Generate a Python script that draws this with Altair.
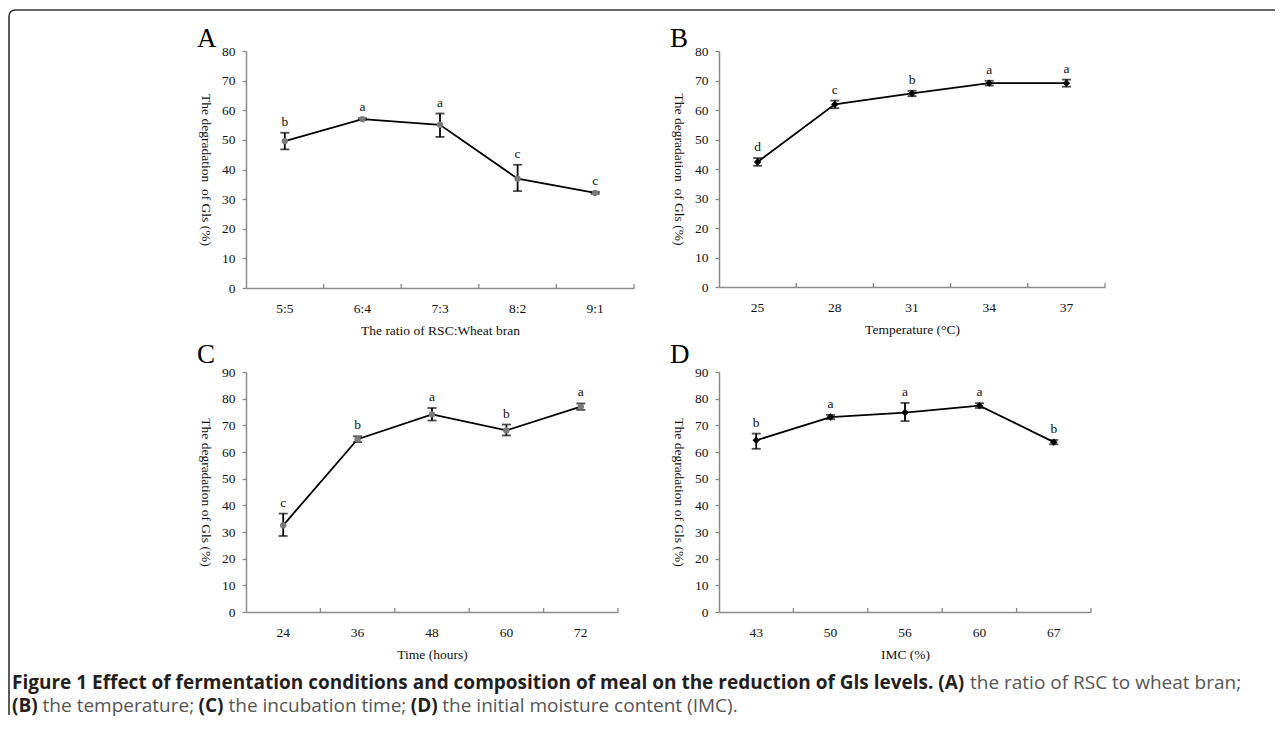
import altair as alt
import pandas as pd
import math

SERIF = "Liberation Serif"
SANS = "Open Sans"

# ---------------- data ----------------
a_cat = ["5:5", "6:4", "7:3", "8:2", "9:1"]
a_val = [49.6, 57.0, 55.1, 36.9, 32.1]
a_lo = [46.8, 56.7, 51.0, 32.7, 31.8]
a_hi = [52.4, 57.3, 58.9, 41.6, 32.4]
a_sig = ["b", "a", "a", "c", "c"]

b_cat = ["25", "28", "31", "34", "37"]
b_val = [42.4, 61.9, 65.6, 69.1, 69.1]
b_lo = [41.1, 60.6, 64.7, 68.3, 67.9]
b_hi = [43.7, 63.2, 66.5, 69.9, 70.3]
b_sig = ["d", "c", "b", "a", "a"]

c_cat = ["24", "36", "48", "60", "72"]
c_val = [32.5, 64.8, 74.1, 68.1, 77.0]
c_lo = [28.5, 63.7, 71.8, 66.2, 75.8]
c_hi = [36.9, 65.9, 76.5, 70.3, 78.2]
c_sig = ["c", "b", "a", "b", "a"]

d_cat = ["43", "50", "56", "60", "67"]
d_val = [64.4, 73.1, 74.8, 77.4, 63.7]
d_lo = [61.2, 72.3, 71.6, 76.5, 62.9]
d_hi = [66.9, 73.9, 78.4, 78.3, 64.5]
d_sig = ["b", "a", "a", "a", "b"]

ytitle_top = "The degradation\u00a0 of Gls (%)"
ytitle_bot = "The degradation of Gls (%)"

caption_bold = [
    "Figure 1 Effect of fermentation conditions and composition of meal on the reduction of Gls levels. (A)",
    "(B)", "(C)", "(D)",
]
caption_reg = [
    "the ratio of RSC to wheat bran;",
    "the temperature;", "the incubation time;", "the initial moisture content (IMC).",
]
# caption placement (pixels, relative to panel A plot origin)
cap_bold_x = [-234, -234, -47.5, 164.7]
cap_bold_y = [638, 661, 661, 661]
cap_reg_x = [724, -203.4, -17.5, 196.3]
cap_reg_y = [638, 661, 661, 661]

AX_STYLE = dict(
    domainColor="#8a8a8a", domainWidth=1.5, tickColor="#8a8a8a", tickWidth=1.3,
    labelFont=SERIF, labelFontSize=13.5, labelColor="#111",
    titleFont=SERIF, titleFontSize=13.5, titleFontWeight="normal", titleColor="#111",
)


def panel(cats, vals, lo, hi, sig, letter, letter_y, xtitle, ytitle, ymax,
          w, h, shape, mcolor, msize):
    df = pd.DataFrame({"cat": cats, "val": vals, "lo": lo, "hi": hi, "sig": sig})
    xaxis = alt.Axis(
        title=xtitle, labelAngle=0, ticks=False,
        labelPadding=13, titleY=42, titleBaseline="middle", **AX_STYLE)
    xscale = alt.Scale(paddingInner=0, paddingOuter=0)
    yaxis = alt.Axis(
        title=ytitle, values=list(range(0, ymax + 1, 10)), grid=False,
        tickSize=4, labelPadding=7, labelOverlap=False, titleAngle=90, titleX=-41,
        titleY=h / 2, titleBaseline="middle", titleAlign="center", **AX_STYLE)
    yscale = alt.Scale(domain=[0, ymax], nice=False)

    def X(**kw):
        return alt.X("cat:N", sort=cats, scale=xscale, axis=xaxis, **kw)

    def Y(f):
        return alt.Y(f + ":Q", scale=yscale, axis=yaxis)

    base = alt.Chart(df)
    line = base.mark_line(color="black", strokeWidth=1.8).encode(x=X(), y=Y("val"))
    # inward x-axis tick marks at the right edge of every category band
    xticks = base.mark_rule(color="#8a8a8a", strokeWidth=1.3).encode(
        x=X(bandPosition=1), y=alt.value(h), y2=alt.value(h - 4))
    bars = base.mark_rule(color="black", strokeWidth=1.8).encode(
        x=X(), y=Y("lo"), y2="hi:Q")
    cap_lo = base.mark_tick(color="black", thickness=1.8, size=9).encode(
        x=X(), y=Y("lo"))
    cap_hi = base.mark_tick(color="black", thickness=1.8, size=9).encode(
        x=X(), y=Y("hi"))
    pts = base.mark_point(shape=shape, filled=True, size=msize, color=mcolor,
                          opacity=1).encode(x=X(), y=Y("val"))
    lbl = base.mark_text(baseline="bottom", dy=-4, font=SERIF, fontSize=13.5,
                         color="#111").encode(x=X(), y=Y("hi"), text="sig:N")
    let = alt.Chart(pd.DataFrame({"t": [letter]})).mark_text(
        align="left", baseline="alphabetic", font=SERIF, fontSize=27,
        color="black").encode(x=alt.value(-49), y=alt.value(letter_y), text="t:N")
    return [line, xticks, bars, cap_lo, cap_hi, pts, lbl, let], w, h


# ---- border and caption (decorations attached to panel A) ----
L, T, R_END, B_END, RAD = -237, -41, 1029, 664, 6
border_col = "#333333"
top_line = alt.Chart(pd.DataFrame({"k": [0]})).mark_rule(
    color=border_col, strokeWidth=1.6).encode(
    x=alt.value(L + RAD), x2=alt.value(R_END), y=alt.value(T))
left_line = alt.Chart(pd.DataFrame({"k": [0]})).mark_rule(
    color=border_col, strokeWidth=1.6).encode(
    x=alt.value(L), y=alt.value(T + RAD), y2=alt.value(B_END))
corner = alt.Chart(pd.DataFrame({"k": [0]})).mark_arc(
    theta=3 * math.pi / 2, theta2=2 * math.pi, radius=RAD + 0.8,
    radius2=RAD - 0.8, color=border_col).encode(
    x=alt.value(L + RAD), y=alt.value(T + RAD))

cap_b_df = pd.DataFrame({"t": caption_bold, "x": cap_bold_x, "y": cap_bold_y})
cap_r_df = pd.DataFrame({"t": caption_reg, "x": cap_reg_x, "y": cap_reg_y})
cap_b = alt.Chart(cap_b_df).mark_text(
    align="left", baseline="alphabetic", font=SANS, fontSize=19,
    fontWeight="bold", color="#231f20").encode(
    x=alt.X("x:Q", scale=None), y=alt.Y("y:Q", scale=None), text="t:N")
cap_r = alt.Chart(cap_r_df).mark_text(
    align="left", baseline="alphabetic", font=SANS, fontSize=19,
    color="#555555").encode(
    x=alt.X("x:Q", scale=None), y=alt.Y("y:Q", scale=None), text="t:N")

layersA, wA, hA = panel(a_cat, a_val, a_lo, a_hi, a_sig, "A", -4,
                        "The ratio of RSC:Wheat bran", ytitle_top, 80,
                        388, 237, "circle", "#7a7a7a", 40)
layersB, wB, hB = panel(b_cat, b_val, b_lo, b_hi, b_sig, "B", -4,
                        "Temperature (\u00b0C)", ytitle_top, 80,
                        386, 236, "diamond", "black", 55)
layersC, wC, hC = panel(c_cat, c_val, c_lo, c_hi, c_sig, "C", -9,
                        "Time (hours)", ytitle_bot, 90,
                        372, 240, "circle", "#7a7a7a", 40)
layersD, wD, hD = panel(d_cat, d_val, d_lo, d_hi, d_sig, "D", -9,
                        "IMC (%)", ytitle_bot, 90,
                        372, 240, "diamond", "black", 55)

chartA = alt.layer(*layersA, top_line, left_line, corner, cap_b, cap_r).properties(
    width=wA, height=hA)
chartB = alt.layer(*layersB).properties(width=wB, height=hB)
chartC = alt.layer(*layersC).properties(width=wC, height=hC)
chartD = alt.layer(*layersD).properties(width=wD, height=hD)

chart = alt.concat(
    chartA, chartB, chartC, chartD, columns=2, bounds="flush",
    spacing={"row": 84, "column": 85},
).properties(
    padding={"left": 0, "top": 1, "right": 0, "bottom": 4},
    background="white",
).configure_view(
    stroke=None
)

chart.save("out.html", embed_options={"renderer": "svg", "actions": False})
